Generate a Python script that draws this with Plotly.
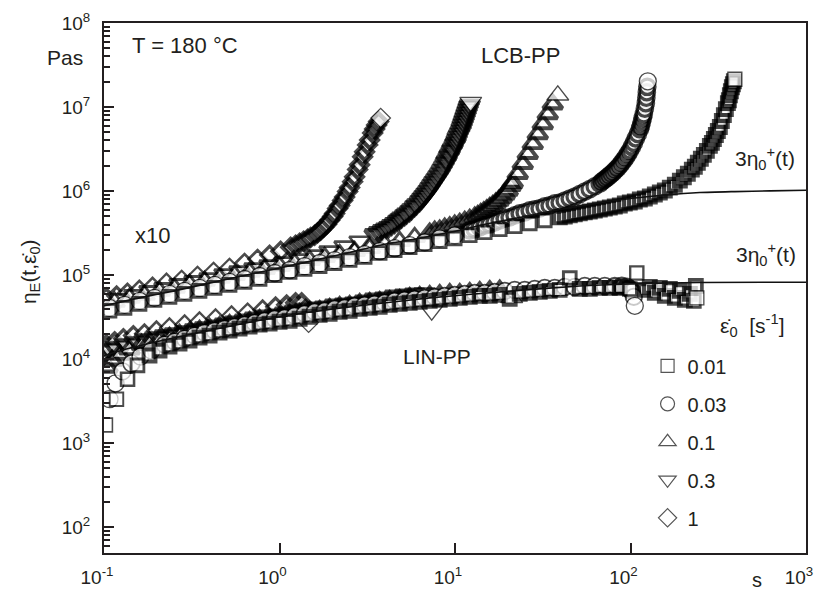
import math
import plotly.graph_objects as go

# ---------------------------------------------------------------------------
# Transient elongational viscosity eta_E(t, rate) at T = 180 °C
# time t in s, viscosity in Pa s; LCB-PP values are shifted up by a factor 10
# ---------------------------------------------------------------------------

# LCB-PP, strain rate 1 s^-1
t_lcb_1 = [0.103, 0.118, 0.136, 0.159, 0.189, 0.227, 0.277, 0.341, 0.421, 0.519, 0.632, 0.750, 0.878,
           1.015, 1.157, 1.235, 1.302, 1.372, 1.446, 1.504, 1.585, 1.649, 1.715, 1.783, 1.855, 1.930,
           2.008, 2.061, 2.144, 2.201, 2.289, 2.350, 2.444, 2.510, 2.611, 2.680, 2.788, 2.862, 2.977,
           3.056, 3.179, 3.264, 3.395, 3.485, 3.578, 3.673, 3.771]
eta_lcb_1 = [5.36e4, 5.66e4, 6.14e4, 6.67e4, 7.23e4, 8.07e4, 8.75e4, 9.76e4, 1.088e5, 1.213e5, 1.390e5,
             1.550e5, 1.729e5, 1.927e5, 2.149e5, 2.268e5, 2.395e5, 2.53e5, 2.671e5, 2.798e5, 2.98e5,
             3.19e5, 3.41e5, 3.70e5, 4.02e5, 4.48e5, 4.99e5, 5.42e5, 6.21e5, 6.74e5, 7.72e5, 8.52e5,
             9.86e5, 1.10e6, 1.295e6, 1.476e6, 1.80e6, 2.057e6, 2.557e6, 2.93e6, 3.545e6, 4.063e6,
             4.915e6, 5.48e6, 6.11e6, 6.72e6, 7.39e6]

# LCB-PP, strain rate 0.3 s^-1
t_lcb_03 = [0.1226, 0.1492, 0.1817, 0.2213, 0.2694, 0.3281, 0.3995, 0.4864, 0.5922, 0.7212, 0.8782,
            1.069, 1.302, 1.585, 1.930, 2.350, 2.862, 3.485,
            3.673, 3.871, 4.026, 4.189, 4.357, 4.532, 4.713, 4.838, 4.967, 5.167, 5.305, 5.517, 5.664,
            5.891, 6.048, 6.291, 6.458, 6.630, 6.807, 6.988, 7.174, 7.365, 7.560, 7.761, 7.968, 8.180,
            8.398, 8.621, 8.850, 8.967, 9.207, 9.329, 9.577, 9.703, 9.961, 10.09, 10.23, 10.36, 10.57,
            10.78, 10.92, 11.07, 11.21, 11.36, 11.51, 11.66, 11.82, 11.97, 12.13, 12.29]
eta_lcb_03 = [5.22e4, 5.82e4, 6.49e4, 7.04e4, 7.85e4, 8.52e4, 9.24e4, 1.03e5, 1.118e5, 1.213e5, 1.316e5,
              1.428e5, 1.550e5, 1.729e5, 1.927e5, 2.208e5, 2.53e5, 3.06e5,
              3.23e5, 3.41e5, 3.554e5, 3.70e5, 3.91e5, 4.13e5, 4.41e5, 4.60e5, 4.81e5, 5.13e5, 5.36e5,
              5.72e5, 6.04e5, 6.56e5, 6.92e5, 7.51e5, 8.04e5, 8.61e5, 9.22e5, 9.86e5, 1.070e6, 1.161e6,
              1.260e6, 1.367e6, 1.484e6, 1.61e6, 1.771e6, 1.95e6, 2.17e6, 2.294e6, 2.557e6, 2.70e6,
              3.01e6, 3.18e6, 3.545e6, 3.74e6, 4.063e6, 4.409e6, 4.78e6, 5.19e6, 5.63e6, 6.11e6, 6.63e6,
              7.19e6, 7.81e6, 8.47e6, 9.19e6, 9.97e6, 1.067e7, 1.143e7]

# LCB-PP, strain rate 0.1 s^-1
t_lcb_01 = [0.1148, 0.1397, 0.1702, 0.2072, 0.2523, 0.3072, 0.3741, 0.4555, 0.5546, 0.6753, 0.8223,
            1.001, 1.219, 1.484, 1.807, 2.201, 2.680, 3.264, 3.974, 4.838, 5.891, 7.174,
            7.660, 8.180, 8.735, 9.329, 9.961, 10.64, 11.36, 12.13, 12.95, 13.47, 14.01, 14.58, 15.16,
            15.77, 16.40, 17.06, 17.75, 18.46, 19.20, 19.97, 20.77, 21.32,
            22.77, 24.32, 25.97, 27.73, 29.61, 31.62, 33.76, 36.06, 38.52]
eta_lcb_01 = [4.81e4, 5.36e4, 5.82e4, 6.49e4, 7.04e4, 7.85e4, 8.52e4, 9.24e4, 1.00e5, 1.09e5, 1.18e5,
              1.28e5, 1.39e5, 1.51e5, 1.64e5, 1.776e5, 1.927e5, 2.091e5, 2.33e5, 2.53e5, 2.82e5, 3.15e5,
              3.32e5, 3.41e5, 3.60e5, 3.73e5, 3.91e5, 4.11e5, 4.34e5, 4.59e5, 4.87e5, 5.08e5, 5.35e5,
              5.63e5, 5.95e5, 6.31e5, 6.70e5, 7.17e5, 7.72e5, 8.38e5, 9.19e5, 1.014e6, 1.155e6, 1.260e6,
              1.61e6, 2.11e6, 2.775e6, 3.64e6, 4.78e6, 6.28e6, 8.24e6, 1.082e7, 1.382e7]

# LCB-PP, strain rate 0.03 s^-1
t_lcb_003 = [0.1075, 0.1309, 0.1594, 0.1940, 0.2362, 0.2877, 0.3503, 0.4266, 0.5194, 0.6324, 0.7701,
             0.9377, 1.142, 1.390, 1.693, 2.061, 2.510, 3.056, 3.722, 4.532, 5.517, 6.718, 8.180, 9.961,
             12.13,
             12.95, 13.83, 14.77, 15.77, 16.84, 17.98, 19.20, 20.50, 21.89, 23.38, 24.97, 26.66, 28.47,
             30.40, 32.46, 34.66, 37.02, 39.54, 42.22, 45.08, 48.13, 51.40, 54.89, 58.61, 62.59, 66.83,
             68.61, 70.44, 72.31, 74.24, 76.21, 78.24, 80.31, 82.44, 84.65, 86.90, 89.21, 91.59, 94.03,
             96.51, 99.08, 101.7, 104.4, 107.2, 110.1, 113.0, 114.5, 116.0, 117.5, 119.1, 120.7, 122.3,
             123.1, 123.9, 124.7, 125.5]
eta_lcb_003 = [4.08e4, 4.43e4, 4.94e4, 5.36e4, 5.98e4, 6.49e4, 7.04e4, 7.64e4, 8.29e4, 8.99e4, 9.76e4,
               1.059e5, 1.149e5, 1.28e5, 1.39e5, 1.51e5, 1.64e5, 1.776e5, 1.927e5, 2.091e5, 2.268e5,
               2.461e5, 2.74e5, 2.98e5, 3.41e5,
               3.51e5, 3.70e5, 3.91e5, 4.02e5, 4.24e5, 4.48e5, 4.73e5, 4.86e5, 5.13e5, 5.42e5, 5.57e5,
               5.88e5, 6.04e5, 6.21e5, 6.56e5, 6.74e5, 7.12e5, 7.31e5, 7.72e5, 8.15e5, 8.61e5, 9.22e5,
               9.86e5, 1.056e6, 1.140e6, 1.227e6,
               1.295e6, 1.349e6, 1.405e6, 1.472e6, 1.541e6, 1.61e6, 1.70e6, 1.80e6, 1.895e6, 2.018e6,
               2.17e6, 2.337e6, 2.529e6, 2.76e6, 3.01e6, 3.356e6, 3.74e6, 4.23e6, 4.78e6, 5.48e6, 5.94e6,
               6.63e6, 7.39e6, 8.24e6, 9.57e6, 1.112e7, 1.291e7, 1.50e7, 1.742e7, 2.024e7]

# LCB-PP, strain rate 0.01 s^-1
t_lcb_001 = [0.1075, 0.1309, 0.1594, 0.1940, 0.2362, 0.2877, 0.3503, 0.4266, 0.5194, 0.6324, 0.7701,
             0.9377, 1.142, 1.390, 1.693, 2.061, 2.510, 3.056, 3.722, 4.532, 5.517, 6.718, 8.180, 9.961,
             12.13, 14.77, 17.98, 21.89, 26.66, 32.46, 39.54,
             42.22, 45.08, 48.13, 51.40, 54.89, 58.61, 62.59, 66.83, 71.37, 76.21, 81.37, 86.90, 92.80,
             99.08, 105.8, 113.0, 120.7, 128.8, 137.6, 146.9, 156.9, 167.5, 178.9, 191.1,
             201.4, 212.2, 223.6, 232.6, 241.9, 251.7, 261.8, 272.4, 283.3, 290.8, 298.6, 306.5, 314.5,
             322.9, 331.5, 340.4, 349.5, 358.8, 363.5, 368.3, 373.2, 378.1, 383.1, 388.1, 393.2]
eta_lcb_001 = [3.76e4, 4.08e4, 4.55e4, 5.08e4, 5.51e4, 5.98e4, 6.49e4, 7.04e4, 7.64e4, 8.29e4, 8.99e4,
               1.00e5, 1.09e5, 1.18e5, 1.28e5, 1.39e5, 1.51e5, 1.64e5, 1.83e5, 1.98e5, 2.15e5, 2.33e5,
               2.53e5, 2.74e5, 2.98e5, 3.23e5, 3.51e5, 3.81e5, 4.13e5, 4.48e5, 4.86e5,
               4.99e5, 5.13e5, 5.28e5, 5.42e5, 5.57e5, 5.72e5, 5.88e5, 6.04e5, 6.21e5, 6.38e5, 6.56e5,
               6.74e5, 7.12e5, 7.31e5, 7.51e5, 7.93e5, 8.15e5, 8.61e5, 9.09e5, 9.60e5, 1.014e6, 1.10e6,
               1.19e6, 1.33e6,
               1.46e6, 1.61e6, 1.80e6, 1.95e6, 2.17e6, 2.42e6, 2.70e6, 3.01e6, 3.45e6, 3.74e6, 4.17e6,
               4.65e6, 5.19e6, 5.79e6, 6.81e6, 8.02e6, 9.44e6, 1.112e7, 1.206e7, 1.382e7, 1.542e7,
               1.719e7, 1.865e7, 2.024e7, 2.14e7]

# LIN-PP, strain rate 1 s^-1
t_lin_1 = [0.103, 0.115, 0.129, 0.147, 0.170, 0.199, 0.236, 0.288, 0.350, 0.432, 0.533, 0.658, 0.801,
           0.950, 1.098, 1.235, 1.337, 1.409, 1.465]
eta_lin_1 = [1.49e4, 1.62e4, 1.76e4, 1.91e4, 2.01e4, 2.18e4, 2.37e4, 2.57e4, 2.79e4, 3.03e4, 3.29e4,
             3.56e4, 3.87e4, 4.20e4, 4.43e4, 4.68e4, 4.68e4, 3.97e4, 2.72e4]

# LIN-PP, strain rate 0.3 s^-1
t_lin_03 = [0.1047, 0.1148, 0.1309, 0.1492, 0.1702, 0.1940, 0.2213, 0.2523, 0.2877, 0.3281, 0.3741,
            0.4266, 0.4864, 0.5546, 0.6324, 0.7212, 0.8223, 0.9377, 1.069, 1.219, 1.390, 1.585, 1.807,
            2.061, 2.350, 2.680, 3.056, 3.485, 3.974, 4.532, 5.167, 5.891, 6.718, 7.365]
eta_lin_03 = [1.302e4, 1.375e4, 1.492e4, 1.575e4, 1.710e4, 1.805e4, 1.906e4, 2.013e4, 2.126e4, 2.245e4,
              2.371e4, 2.503e4, 2.642e4, 2.790e4, 2.947e4, 3.111e4, 3.285e4, 3.376e4, 3.565e4, 3.764e4,
              3.975e4, 4.084e4, 4.197e4, 4.432e4, 4.554e4, 4.680e4, 4.942e4, 5.218e4, 5.362e4, 5.662e4,
              5.818e4, 5.980e4, 6.144e4, 3.764e4]

# LIN-PP, strain rate 0.1 s^-1
t_lin_01 = [0.1047, 0.1118, 0.1226, 0.1397, 0.1636, 0.1817, 0.2072, 0.2362, 0.2694, 0.3072, 0.3503,
            0.3995, 0.4555, 0.5194, 0.5922, 0.6753, 0.7701, 0.8782, 1.001, 1.142, 1.302, 1.484, 1.693,
            1.930, 2.201, 2.510, 2.862, 3.264, 3.722, 4.244, 4.838, 5.517, 6.291, 7.174, 8.180, 9.329,
            10.64, 12.13, 13.83, 15.77, 17.98, 21.05]
eta_lin_01 = [7.98e3, 9.65e3, 1.137e4, 1.302e4, 1.492e4, 1.575e4, 1.710e4, 1.805e4, 1.959e4, 2.068e4,
              2.184e4, 2.307e4, 2.435e4, 2.572e4, 2.642e4, 2.790e4, 2.947e4, 3.028e4, 3.197e4, 3.376e4,
              3.469e4, 3.663e4, 3.764e4, 3.975e4, 4.197e4, 4.312e4, 4.554e4, 4.680e4, 4.808e4, 4.942e4,
              5.078e4, 5.362e4, 5.510e4, 5.662e4, 5.818e4, 5.980e4, 5.980e4, 6.144e4, 6.313e4, 6.486e4,
              6.664e4, 5.362e4]

# LIN-PP, strain rate 0.03 s^-1
t_lin_003 = [0.1075, 0.1163, 0.1275, 0.1434, 0.1615, 0.1865,
             0.2213, 0.2523, 0.2877, 0.3281, 0.3741, 0.4266, 0.4864, 0.5546, 0.6324, 0.7212, 0.8223,
             0.9377, 1.069, 1.219, 1.390, 1.585, 1.807, 2.061, 2.350, 2.680, 3.056, 3.485, 3.974, 4.532,
             5.167, 5.891, 6.718, 7.660, 8.735, 9.961, 11.36, 12.95, 14.77, 16.84, 19.20, 21.89, 24.97,
             28.47, 32.46, 37.02, 42.22, 48.13, 54.89, 62.59, 71.37, 81.37,
             89.21, 95.27, 99.08, 101.7, 104.4, 105.8]
eta_lin_003 = [3.34e3, 5.16e3, 7.16e3, 8.90e3, 1.076e4, 1.267e4,
               1.492e4, 1.619e4, 1.757e4, 1.906e4, 2.068e4, 2.184e4, 2.307e4, 2.435e4, 2.572e4, 2.716e4,
               2.867e4, 3.028e4, 3.111e4, 3.285e4, 3.469e4, 3.663e4, 3.764e4, 3.975e4, 4.084e4, 4.312e4,
               4.432e4, 4.554e4, 4.680e4, 4.942e4, 5.078e4, 5.218e4, 5.362e4, 5.510e4, 5.662e4, 5.818e4,
               5.980e4, 6.144e4, 6.144e4, 6.313e4, 6.486e4, 6.664e4, 6.664e4, 6.850e4, 7.039e4, 7.039e4,
               7.233e4, 7.233e4, 7.432e4, 7.432e4, 7.432e4, 7.432e4,
               7.432e4, 7.233e4, 6.850e4, 6.486e4, 5.510e4, 4.312e4]

# LIN-PP, strain rate 0.01 s^-1
t_lin_001 = [0.1020, 0.1178, 0.1362, 0.1552, 0.1817,
             0.2072, 0.2362, 0.2694, 0.3072, 0.3503, 0.3995, 0.4555, 0.5194, 0.5922, 0.6753, 0.7701,
             0.8782, 1.001, 1.142, 1.302, 1.484, 1.693, 1.930, 2.201, 2.510, 2.862, 3.264, 3.722, 4.244,
             4.838, 5.517, 6.291, 7.174, 8.180, 9.329, 10.64, 12.13, 13.83, 15.77, 17.98, 20.50, 23.38,
             26.66, 30.40, 34.66, 39.54, 45.08, 51.40, 58.61, 66.83, 76.21, 86.90, 99.08,
             108.6, 120.7, 128.8, 137.6, 146.9, 156.9, 167.5, 178.9, 191.1, 204.0, 217.8, 229.6, 235.7,
             238.8]
eta_lin_001 = [1.645e3, 3.34e3, 5.75e3, 8.43e3, 1.106e4,
               1.267e4, 1.413e4, 1.532e4, 1.663e4, 1.805e4, 1.906e4, 2.068e4, 2.184e4, 2.307e4, 2.435e4,
               2.572e4, 2.642e4, 2.790e4, 2.867e4, 3.028e4, 3.197e4, 3.376e4, 3.469e4, 3.663e4, 3.764e4,
               3.975e4, 4.084e4, 4.197e4, 4.432e4, 4.554e4, 4.680e4, 4.808e4, 4.942e4, 5.078e4, 5.218e4,
               5.362e4, 5.510e4, 5.662e4, 5.662e4, 5.818e4, 5.218e4, 5.980e4, 6.144e4, 6.313e4, 6.486e4,
               6.664e4, 9.24e4, 6.850e4, 6.850e4, 7.039e4, 7.039e4, 7.039e4, 6.850e4,
               1.059e5, 6.664e4, 7.233e4, 6.144e4, 7.039e4, 5.662e4, 6.850e4, 5.362e4, 6.486e4, 5.078e4,
               5.980e4, 4.942e4, 7.432e4, 5.362e4]

# Linear viscoelastic start-up envelopes 3*eta0+(t)
t_env_lcb = [0.1, 0.159, 0.252, 0.540, 1.0, 1.693, 2.862, 3.974, 6.291, 10.0, 15.77, 25.0, 39.54, 62.6,
             100, 156.9, 248.5, 393, 622.6, 1000]
eta_env_lcb = [4.31e4, 5.36e4, 6.49e4, 9.24e4, 1.213e5, 1.550e5, 1.981e5, 2.33e5, 2.745e5, 3.32e5,
               4.13e5, 4.99e5, 6.04e5, 7.12e5, 8.15e5, 8.97e5, 9.60e5, 9.86e5, 1.006e6, 1.022e6]
t_env_lin = [0.1, 0.145, 0.252, 0.540, 1.0, 2.862, 7.174, 21.33, 51.4, 100, 248.5, 1000]
eta_env_lin = [1.106e4, 1.375e4, 1.80e4, 2.50e4, 3.20e4, 4.31e4, 5.36e4, 6.49e4, 7.43e4, 7.85e4,
               8.18e4, 8.22e4]

rate_labels = ["0.01", "0.03", "0.1", "0.3", "1"]
symbols = ["square", "circle", "triangle-up", "triangle-down", "diamond"]
sizes = [14, 17, 19, 19, 15]
legend_sizes = [13, 14, 15, 15, 14]
# how strongly closely packed samples of each symbol build up their outlines
packing = [44, 18, 44, 44, 36]

lcb = [(t_lcb_001, eta_lcb_001), (t_lcb_003, eta_lcb_003), (t_lcb_01, eta_lcb_01),
       (t_lcb_03, eta_lcb_03), (t_lcb_1, eta_lcb_1)]
lin = [(t_lin_001, eta_lin_001), (t_lin_003, eta_lin_003), (t_lin_01, eta_lin_01),
       (t_lin_03, eta_lin_03), (t_lin_1, eta_lin_1)]

for t, eta in lcb + lin:
    if len(t) != len(eta):
        raise ValueError("time and viscosity lists differ in length: %d vs %d" % (len(t), len(eta)))

INK = "#231f20"
FONT = "Liberation Sans, Arial, Helvetica, sans-serif"
PX_PER_DECADE_T = 175.4     # plot width / 4 decades
PX_PER_DECADE_ETA = 84.6    # plot height / 6.3 decades


def outline_style(t, eta, base_size, k):
    """Open symbols plotted back to back: the closer the next sample, the more of
    each outline stays visible, so packed runs get heavier strokes. The last
    sample of a run lies on top and keeps a fine stroke."""
    widths, msizes = [], []
    for i in range(len(t)):
        if i == len(t) - 1:
            w = 1.3
        else:
            dx = (math.log10(t[i + 1]) - math.log10(t[i])) * PX_PER_DECADE_T
            dy = (math.log10(eta[i + 1]) - math.log10(eta[i])) * PX_PER_DECADE_ETA
            gap = max(math.hypot(dx, dy), 0.5)
            w = min(4.2, max(1.3, k / gap))
        widths.append(round(w, 2))
        msizes.append(round(base_size - 0.8 * (w - 1.3), 2))
    return widths, msizes


fig = go.Figure()

# highest rate drawn first, lowest rate on top
for i in reversed(range(5)):
    for t, eta in (lin[i], lcb[i]):
        widths, msizes = outline_style(t, eta, sizes[i], packing[i])
        fig.add_trace(go.Scatter(
            x=t, y=eta, mode="markers", showlegend=False, hoverinfo="skip",
            marker=dict(symbol=symbols[i], size=msizes, color="white",
                        line=dict(color="#000000", width=widths)),
        ))

for t, eta in ((t_env_lcb, eta_env_lcb), (t_env_lin, eta_env_lin)):
    fig.add_trace(go.Scatter(x=t, y=eta, mode="lines", showlegend=False, hoverinfo="skip",
                             line=dict(color="#111111", width=1.6, shape="spline", smoothing=0.6)))

# legend entries
for i in range(5):
    fig.add_trace(go.Scatter(
        x=[None], y=[None], mode="markers", name=rate_labels[i], legendgroup=rate_labels[i],
        marker=dict(symbol=symbols[i], size=legend_sizes[i], color="white",
                    line=dict(color="#555555", width=1.2)),
    ))

x_ticks = [0.1, 1, 10, 100, 1000]
x_ticktext = ["10<sup>-1</sup>", "10<sup>0</sup>", "10<sup>1</sup>", "10<sup>2</sup>", "10<sup>3</sup>"]
y_ticks = [1e2, 1e3, 1e4, 1e5, 1e6, 1e7, 1e8]
y_ticktext = ["10<sup>%d</sup>" % e for e in range(2, 9)]
y_minor = [m * 10 ** e for e in range(1, 8) for m in range(2, 10)]

axis_common = dict(type="log", showline=True, linecolor=INK, linewidth=2, mirror=True,
                   ticks="inside", tickcolor=INK, tickwidth=2, ticklen=10, showgrid=False,
                   zeroline=False, automargin=False,
                   tickfont=dict(family=FONT, size=19, color=INK))

fig.update_xaxes(range=[-1, 3], tickmode="array", tickvals=x_ticks, ticktext=x_ticktext,
                 ticklabeloverflow="allow", ticklabelshift=-7, ticklabelstandoff=6, **axis_common)
fig.update_yaxes(range=[1.693, 8], tickmode="array", tickvals=y_ticks, ticktext=y_ticktext,
                 ticklabelstandoff=8,
                 minor=dict(tickmode="array", tickvals=y_minor, ticks="inside", ticklen=6,
                            tickwidth=1.5, tickcolor=INK, showgrid=False),
                 **axis_common)


def note(text, x, y, size=21, xanchor="center", angle=0):
    fig.add_annotation(text=text, x=x, y=y, xref="paper", yref="paper", showarrow=False,
                       xanchor=xanchor, yanchor="middle", textangle=angle,
                       font=dict(family=FONT, size=size, color=INK))


note("T = 180 °C", 0.037, 0.957, size=22, xanchor="left")
note("Pas", -0.027, 0.934, size=21, xanchor="right")
note("LCB-PP", 0.5926, 0.938, size=22)
note("x10", 0.0684, 0.600, size=22)
note("3η<sub>0</sub><sup>+</sup>(t)", 0.9416, 0.745, size=21)
note("3η<sub>0</sub><sup>+</sup>(t)", 0.9430, 0.564, size=21)
note("LIN-PP", 0.4744, 0.370, size=21)
note("ε\u0307<sub>0</sub>  [s<sup>-1</sup>]", 0.923, 0.430, size=21)
note("s", 0.930, -0.050, size=20)
note("η<sub>E</sub>(t,ε\u0307<sub>0</sub>)", -0.1054, 0.530, size=21, angle=-90)

fig.update_layout(
    width=817, height=592,
    margin=dict(l=104, r=11, t=23, b=39, autoexpand=False),
    paper_bgcolor="white", plot_bgcolor="white",
    font=dict(family=FONT, size=20, color=INK),
    legend=dict(x=0.7743, y=0.390, xanchor="left", yanchor="top", tracegroupgap=9,
                bgcolor="rgba(0,0,0,0)", font=dict(family=FONT, size=20, color=INK)),
)

fig.write_html("out.html")
